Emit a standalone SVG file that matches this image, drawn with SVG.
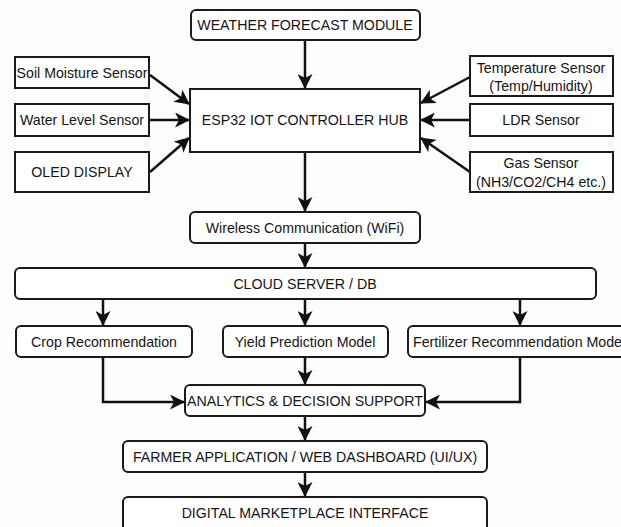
<svg xmlns="http://www.w3.org/2000/svg" width="621" height="527" viewBox="0 0 621 527">
<defs>
<marker id="ah" markerUnits="userSpaceOnUse" markerWidth="15" markerHeight="15" refX="14" refY="7.5" orient="auto">
<path d="M0,0 L15,7.5 L0,15 L4,7.5 z" fill="#111"/>
</marker>
<style>
.b{fill:#fff;stroke:#1a1a1a;stroke-width:2}
.t{font-family:"Liberation Sans",Arial,sans-serif;font-size:14.2px;fill:#151515;text-anchor:middle}
.c{fill:none;stroke:#111;stroke-width:2.5;marker-end:url(#ah)}
</style>
</defs>
<rect width="621" height="527" fill="#fdfdfd"/>
<g id="connectors">
<path class="c" d="M305,40 V88"/>
<path class="c" d="M150,75 L189,104"/>
<path class="c" d="M150,120 H189"/>
<path class="c" d="M150,172 L189,138"/>
<path class="c" d="M470,77 L421,103"/>
<path class="c" d="M470,120 H421"/>
<path class="c" d="M470,172 L421,138"/>
<path class="c" d="M305,152 V211"/>
<path class="c" d="M305,243 V267"/>
<path class="c" d="M103,299 V325"/>
<path class="c" d="M305,299 V325"/>
<path class="c" d="M520,299 V325"/>
<path class="c" d="M103,357 V402 H184"/>
<path class="c" d="M305,357 V384"/>
<path class="c" d="M520,357 V402 H426"/>
<path class="c" d="M305,416 V440"/>
<path class="c" d="M305,472 V496"/>
</g>
<g id="weather"><rect class="b" x="191" y="10" width="229" height="30" rx="5"/><text class="t" x="305" y="30">WEATHER FORECAST MODULE</text></g>
<g id="soil"><rect class="b" x="15" y="57" width="134" height="31"/><text class="t" x="82" y="77.5">Soil Moisture Sensor</text></g>
<g id="water"><rect class="b" x="15" y="104" width="134" height="32"/><text class="t" x="82" y="125">Water Level Sensor</text></g>
<g id="oled"><rect class="b" x="15" y="152" width="134" height="40"/><text class="t" x="82" y="177">OLED DISPLAY</text></g>
<g id="esp32"><rect class="b" x="190" y="89" width="230" height="63"/><text class="t" x="305" y="125">ESP32 IOT CONTROLLER HUB</text></g>
<g id="temp"><rect class="b" x="470" y="56" width="143" height="40"/><text class="t" x="541" y="73">Temperature Sensor</text><text class="t" x="541" y="91">(Temp/Humidity)</text></g>
<g id="ldr"><rect class="b" x="470" y="104" width="143" height="32"/><text class="t" x="541" y="125">LDR Sensor</text></g>
<g id="gas"><rect class="b" x="470" y="152" width="143" height="40"/><text class="t" x="541" y="168">Gas Sensor</text><text class="t" x="541" y="187">(NH3/CO2/CH4 etc.)</text></g>
<g id="wireless"><rect class="b" x="190" y="212" width="230" height="31" rx="5"/><text class="t" x="305" y="232.5">Wireless Communication (WiFi)</text></g>
<g id="cloud"><rect class="b" x="15" y="268" width="581" height="31" rx="5"/><text class="t" x="305" y="288.5">CLOUD SERVER / DB</text></g>
<g id="crop"><rect class="b" x="16" y="326" width="176" height="31" rx="5"/><text class="t" x="104" y="346.5">Crop Recommendation</text></g>
<g id="yield"><rect class="b" x="223" y="326" width="165" height="31" rx="5"/><text class="t" x="305" y="346.5">Yield Prediction Model</text></g>
<g id="fert"><rect class="b" x="408" y="326" width="230" height="31" rx="5"/><text class="t" x="413" y="346.5" style="text-anchor:start">Fertilizer Recommendation Model</text></g>
<g id="analytics"><rect class="b" x="185" y="385" width="240" height="31" rx="5"/><text class="t" x="305" y="405.5">ANALYTICS &amp; DECISION SUPPORT</text></g>
<g id="farmer"><rect class="b" x="123" y="441" width="364" height="31" rx="5"/><text class="t" x="305" y="461.5">FARMER APPLICATION / WEB DASHBOARD (UI/UX)</text></g>
<g id="digital"><rect class="b" x="123" y="497" width="364" height="40" rx="5"/><text class="t" x="305" y="518">DIGITAL MARKETPLACE INTERFACE</text></g>
</svg>
